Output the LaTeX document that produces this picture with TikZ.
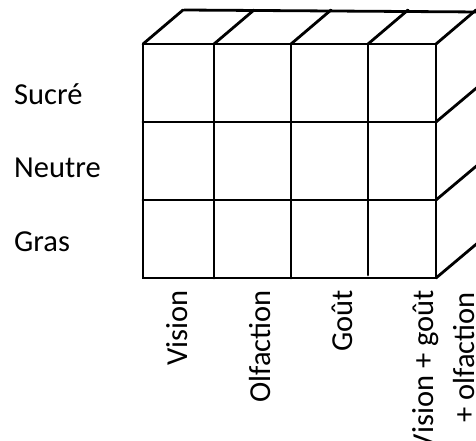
\documentclass[tikz,border=0pt]{standalone}
\usepackage{fontspec}
\setmainfont{Carlito}
\begin{document}
\begin{tikzpicture}[x=1pt,y=-1pt,
  edge/.style={line width=2.8pt,line cap=round,line join=miter},
  lab/.style={inner sep=0pt,font=\fontsize{30.5}{36}\selectfont},
  vlab/.style={lab,rotate=90,anchor=base east}]
\useasboundingbox (0,0) rectangle (476,441);
% front face
\draw[edge] (143,44) rectangle (436,278);
\draw[edge] (143,122) -- (436,122);
\draw[edge] (143,200) -- (436,200);
\draw[edge] (214,44) -- (214,278);
\draw[edge] (291,44) -- (291,278);
\draw[edge] (368,44) -- (368,275);
% top face
\draw[edge] (184,10) -- (480,12);
\foreach \x in {143,214,291,368,436} \draw[edge] (\x,44) -- ++(40,-34);
% right face
\foreach \y in {122,200,278} \draw[edge] (436,\y) -- ++(44,-37);
% row labels
\node[lab,anchor=base west] (s) at (14,105) {Sucré};
\node[lab,anchor=base west] (n) at (14,177) {Neutre};
\node[lab,anchor=base west] (g) at (14,251) {Gras};
% column labels
\node[vlab] (c1) at (187,290) {Vision};
\node[vlab] (c2) at (270,290) {Olfaction};
\node[vlab] (c3) at (352,290) {Goût};
\node[vlab] (c4) at (433,290) {Vision + goût};
\node[vlab] (c5) at (474,292) {+ olfaction};
\end{tikzpicture}
\end{document}
